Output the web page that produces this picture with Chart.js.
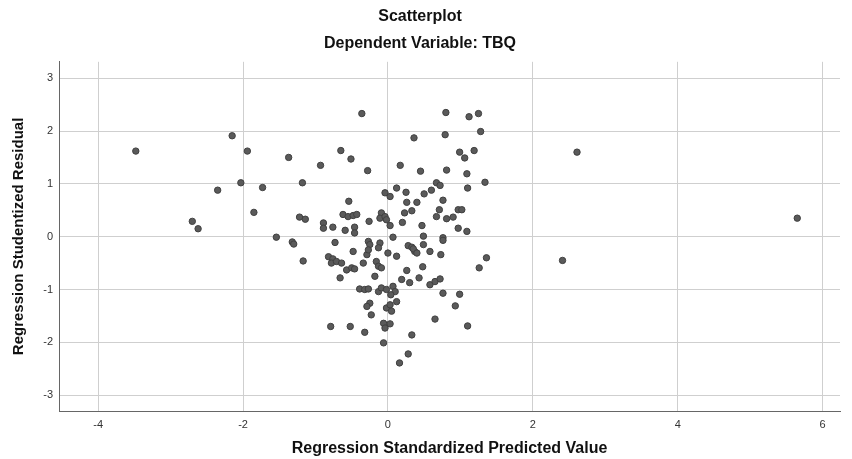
<!DOCTYPE html>
<html>
<head>
<meta charset="utf-8">
<title>Scatterplot</title>
<script src="https://cdn.jsdelivr.net/npm/chart.js@4.4.1/dist/chart.umd.min.js"></script>
<style>
  html, body { margin: 0; padding: 0; background: #fff; }
  #wrap { width: 852px; height: 459px; }
</style>
</head>
<body>
<div id="wrap"><canvas id="scatter" width="852" height="459"></canvas></div>
<script>
// Axis ticks
const xTicks = [-4, -2, 0, 2, 4, 6];
const yTicks = [-3, -2, -1, 0, 1, 2, 3];

// Regression Standardized Predicted Value (x) / Studentized Residual (y)
const predicted = [
  -3.48, -2.15, -1.94, -1.37, -2.03, -2.35, -1.73, -1.18, -1.85, -2.70, -2.62, -1.22, -1.14, -1.54, -1.32, -1.30, -1.17, -0.93,
  -0.36, -0.65, -0.51, -0.28, -0.54, -0.04, 0.03, 0.12, -0.62, -0.55, -0.48, -0.43, -0.26, -0.09, -0.11, -0.04, -0.02, -0.89, -0.89, -0.76, -0.59, -0.46, -0.46, 0.03, 0.07,
  0.80, 1.12, 1.25, 1.28, 0.36, 0.79, 0.99, 1.06, 1.19, 0.17, 0.45, 0.81, 1.09, 1.34, 0.67, 0.72, 1.10, 0.25, 0.50, 0.60, 0.26, 0.40, 0.76, 0.23, 0.33, 0.71, 0.97, 1.02, 0.67, 0.81, 0.90, 0.20, 0.47, 0.97, 1.09, 0.49, 0.76,
  -0.73, -0.27, -0.25, -0.11, -0.13, -0.48, -0.29, -0.27, 0.00, -0.82, -0.76, -0.78, -0.71, -0.64, -0.57, -0.50, -0.46, -0.34, -0.16, -0.13, -0.09, -0.66, -0.18, -0.39, -0.32, -0.27, -0.13, -0.09, -0.02, 0.07, 0.10, 0.04, -0.25, -0.29, -0.23, -0.02, 0.03, 0.05, 0.12, -0.79, -0.52, -0.32, -0.06, -0.04, 0.03, -0.06, 0.16, 0.28,
  0.76, 0.28, 0.33, 0.37, 0.35, 0.40, 0.49, 0.58, 0.73, 0.12, 1.36, 1.26, 0.26, 0.48, 0.43, 0.19, 0.30, 0.58, 0.65, 0.72, 0.76, 0.99, 0.93, 0.65, 1.10, 0.33,
  2.61, 5.65, 2.41
];
const residual = [
  1.62, 1.91, 1.62, 1.50, 1.02, 0.88, 0.93, 1.02, 0.46, 0.29, 0.15, 0.37, 0.33, -0.01, -0.10, -0.14, -0.46, 1.35,
  2.33, 1.63, 1.47, 1.25, 0.67, 0.83, 0.76, 0.92, 0.42, 0.38, 0.40, 0.42, 0.29, 0.45, 0.35, 0.38, 0.32, 0.26, 0.16, 0.18, 0.12, 0.18, 0.07, 0.21, -0.01,
  2.35, 2.27, 2.33, 1.99, 1.87, 1.93, 1.60, 1.49, 1.63, 1.35, 1.24, 1.26, 1.19, 1.03, 1.02, 0.97, 0.92, 0.84, 0.81, 0.88, 0.65, 0.65, 0.69, 0.45, 0.49, 0.51, 0.51, 0.51, 0.38, 0.34, 0.37, 0.27, 0.21, 0.16, 0.10, 0.01, -0.02,
  -0.11, -0.09, -0.15, -0.12, -0.21, -0.28, -0.34, -0.25, -0.31, -0.38, -0.42, -0.50, -0.47, -0.50, -0.63, -0.59, -0.61, -0.50, -0.47, -0.56, -0.59, -0.78, -0.75, -0.99, -1.00, -0.99, -1.04, -0.97, -1.00, -0.94, -1.04, -1.10, -1.26, -1.32, -1.48, -1.35, -1.29, -1.41, -1.23, -1.70, -1.70, -1.81, -1.64, -1.73, -1.65, -2.01, -2.39, -2.22,
  -0.07, -0.17, -0.20, -0.28, -0.23, -0.31, -0.15, -0.28, -0.34, -0.37, -0.40, -0.59, -0.64, -0.57, -0.78, -0.81, -0.87, -0.91, -0.85, -0.80, -1.07, -1.09, -1.31, -1.56, -1.69, -1.86,
  1.60, 0.35, -0.45
];

const FONT = "'Liberation Sans', Arial, sans-serif";
Chart.defaults.font.family = FONT;

const points = predicted.map((x, i) => ({ x: x, y: residual[i] }));

new Chart(document.getElementById('scatter'), {
  type: 'scatter',
  data: {
    datasets: [{
      data: points,
      backgroundColor: '#5a5a5a',
      borderColor: '#404040',
      borderWidth: 1,
      pointRadius: 3.2
    }]
  },
  options: {
    responsive: false,
    animation: false,
    layout: { padding: { left: 0, right: 12, top: 0, bottom: 0 } },
    plugins: {
      legend: { display: false },
      tooltip: { enabled: false },
      title: {
        display: true,
        text: 'Scatterplot',
        color: '#111',
        font: { size: 16, weight: 'bold' },
        padding: { top: 7, bottom: 8 }
      },
      subtitle: {
        display: true,
        text: 'Dependent Variable: TBQ',
        color: '#111',
        font: { size: 16, weight: 'bold' },
        padding: { top: 0, bottom: 8.4 }
      }
    },
    scales: {
      x: {
        type: 'linear',
        min: -4.54,
        max: 6.24,
        afterBuildTicks: s => { s.ticks = xTicks.map(v => ({ value: v })); },
        afterFit: s => { s.height = 48; },
        grid: { color: '#cfcfcf', lineWidth: 1, drawTicks: false },
        border: { display: true, color: '#666', width: 1 },
        ticks: { color: '#333', font: { size: 11 }, padding: 7 },
        title: {
          display: true,
          text: 'Regression Standardized Predicted Value',
          color: '#111',
          font: { size: 16, weight: 'bold' },
          padding: { top: 0, bottom: 1 }
        }
      },
      y: {
        type: 'linear',
        min: -3.3,
        max: 3.31,
        afterBuildTicks: s => { s.ticks = yTicks.map(v => ({ value: v })); },
        afterFit: s => { s.width = 59; },
        grid: { color: '#cfcfcf', lineWidth: 1, drawTicks: false },
        border: { display: true, color: '#666', width: 1 },
        ticks: { color: '#333', font: { size: 11 }, padding: 6 },
        title: {
          display: true,
          text: 'Regression Studentized Residual',
          color: '#111',
          font: { size: 15, weight: 'bold' },
          padding: { top: 9.5, bottom: 0 }
        }
      }
    }
  }
});
</script>
</body>
</html>
